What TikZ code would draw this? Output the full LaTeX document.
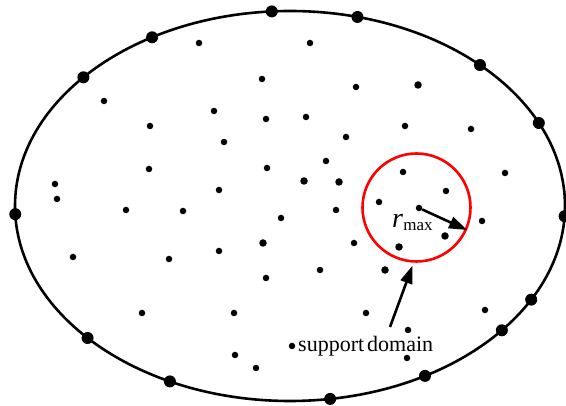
\documentclass[tikz,border=0pt]{standalone}
\usepackage{fontspec}
\setmainfont{Liberation Serif}
\usetikzlibrary{arrows.meta}
\begin{document}
\begin{tikzpicture}[x=1pt,y=-1pt,
  dot/.style={circle,fill=black,inner sep=0pt,minimum size=6.5pt},
  mdot/.style={circle,fill=black,inner sep=0pt,minimum size=7.5pt},
  bdot/.style={circle,fill=black,inner sep=0pt,minimum size=12pt},
  bound/.style={line width=2.6pt},
  arr/.style={line width=2.6pt,-{Triangle[length=18pt,width=12pt]}},
  lbl/.style={anchor=base west,inner sep=0pt}
  ]
\useasboundingbox (0,0) rectangle (566,406);
% domain boundary
\draw[bound] (290,206) ellipse [x radius=275pt, y radius=195pt];
\foreach \a [count=\i] in {138.7,120.1,93.8,75.8,46.3,25.2,-3,-28.7,-39.6,-60.6,-81.6,-115.9,-137.4,182.4}
  \path (290,206) ++(\a:275pt and 195pt) node[bdot] (b\i) {};
% interior nodes
\foreach \x/\y [count=\i] in {199/43,262/79,104/101,214/111,266/119,150/126,224/142,149/169,267/168,55/184,57/199,219/190,
  310/43,356/87,306/117,405/126,346/137,471/129,326/161,403/172,505/173,446/191,379/202,
  126/210,183/211,281/218,73/257,169/259,219/251,266/278,142/313,234/313,235/355,256/368,
  336/210,482/221,354/243,320/270,366/313,485/310,408/330,407/358,292/346}
  \node[dot] (d\i) at (\x,\y) {};
\foreach \x/\y [count=\i] in {418/85,304/181,339/182,263/243,445/236,399/247,385/270}
  \node[mdot] (m\i) at (\x,\y) {};
\node[dot] (c) at (419,208) {};
% support domain
\node[draw=red,circle,line width=2.6pt,minimum size=108pt,inner sep=0pt] (dom) at (416.5,207.5) {};
\draw[arr] (c) -- (dom.-24);
\node[lbl] (rm) at (392,228) {\fontsize{28}{28}\selectfont\itshape r\kern0.3pt\raisebox{-3pt}{\fontsize{17}{17}\selectfont\upshape max}};
\node[lbl,font=\fontsize{22}{22}\selectfont] (sd) at (298,352) {support\hspace{3pt}domain};
\coordinate (s) at (390,327);
\draw[arr,shorten >=3pt] (s) -- (dom.-93);
\end{tikzpicture}
\end{document}
